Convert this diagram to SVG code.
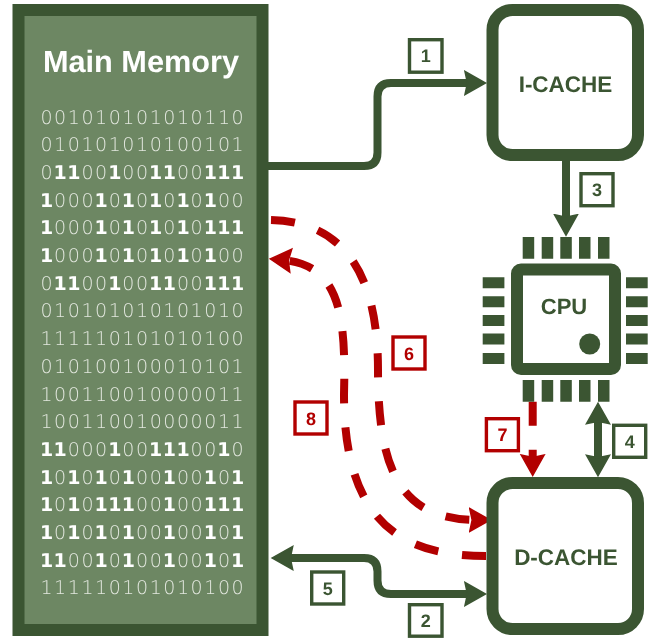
<svg xmlns="http://www.w3.org/2000/svg" width="652" height="638" viewBox="0 0 652 638">
<style>
text{text-rendering:geometricPrecision;filter:url(#gray)}
.box{fill:#fff;stroke:#3b5532;stroke-width:12}
.pin{fill:#3b5532}
.t{font-family:"Liberation Sans",Arial,sans-serif;font-weight:700;fill:#3b5532;text-anchor:middle}
.c{font-size:22.5px}
.n{font-size:18px}
.lg rect{fill:#fff;stroke:#3b5532;stroke-width:3.4}
.lr rect{fill:#fff;stroke:#b20000;stroke-width:3.4}
.lr text{fill:#b20000}
.w{fill:none;stroke:#3b5532;stroke-width:8}
.r{fill:none;stroke:#b20000;stroke-width:8;stroke-dasharray:24 24}
.bits text{font-family:"DejaVu Sans",sans-serif;font-size:19px;font-weight:200;fill:#e2e7de;text-anchor:middle}
.bits tspan{font-weight:700;fill:#fff}
.hg{fill:#3b5532;stroke:#3b5532;stroke-width:1.500}
.hr{fill:#b20000;stroke:#b20000;stroke-width:1.500}
</style>
<defs>
<filter id="gray" x="-.1" y="-.3" width="1.2" height="1.6" color-interpolation-filters="sRGB"><feOffset dx="0" dy="0"/></filter>
<marker id="hg" markerUnits="userSpaceOnUse" markerWidth="30" markerHeight="30" refX="9" refY="15" orient="auto-start-reverse"><path class="hg" d="M1 3.500L21.500 15L1 26.500L3.500 15Z"/></marker>
<marker id="hr" markerUnits="userSpaceOnUse" markerWidth="30" markerHeight="30" refX="9" refY="15" orient="auto-start-reverse"><path class="hr" d="M1 3.500L21.500 15L1 26.500L3.500 15Z"/></marker>
</defs>
<g id="main-memory">
<rect x="18.500" y="10" width="244" height="620" fill="#6d8763" stroke="#3b5532" stroke-width="12"/>
<text x="141" y="71.500" font-family="Liberation Sans, Arial, sans-serif" font-weight="700" font-size="30.700" fill="#fff" text-anchor="middle">Main Memory</text>
<g class="bits">
<text y="123.500" x="46.500 60.150 73.800 87.450 101.100 114.750 128.400 142.050 155.700 169.350 183 196.650 210.300 223.950 237.600">001010101010110</text>
<text y="151.200" x="46.500 60.150 73.800 87.450 101.100 114.750 128.400 142.050 155.700 169.350 183 196.650 210.300 223.950 237.600">010101010100101</text>
<text y="178.900" x="46.500 60.150 73.800 87.450 101.100 114.750 128.400 142.050 155.700 169.350 183 196.650 210.300 223.950 237.600">0<tspan>11</tspan>00<tspan>1</tspan>00<tspan>11</tspan>00<tspan>111</tspan></text>
<text y="206.600" x="46.500 60.150 73.800 87.450 101.100 114.750 128.400 142.050 155.700 169.350 183 196.650 210.300 223.950 237.600"><tspan>1</tspan>000<tspan>1</tspan>0<tspan>1</tspan>0<tspan>1</tspan>0<tspan>1</tspan>0<tspan>1</tspan>00</text>
<text y="234.300" x="46.500 60.150 73.800 87.450 101.100 114.750 128.400 142.050 155.700 169.350 183 196.650 210.300 223.950 237.600"><tspan>1</tspan>000<tspan>1</tspan>0<tspan>1</tspan>0<tspan>1</tspan>0<tspan>1</tspan>0<tspan>111</tspan></text>
<text y="262" x="46.500 60.150 73.800 87.450 101.100 114.750 128.400 142.050 155.700 169.350 183 196.650 210.300 223.950 237.600"><tspan>1</tspan>000<tspan>1</tspan>0<tspan>1</tspan>0<tspan>1</tspan>0<tspan>1</tspan>0<tspan>1</tspan>00</text>
<text y="289.700" x="46.500 60.150 73.800 87.450 101.100 114.750 128.400 142.050 155.700 169.350 183 196.650 210.300 223.950 237.600">0<tspan>11</tspan>00<tspan>1</tspan>00<tspan>11</tspan>00<tspan>111</tspan></text>
<text y="317.400" x="46.500 60.150 73.800 87.450 101.100 114.750 128.400 142.050 155.700 169.350 183 196.650 210.300 223.950 237.600">010101010101010</text>
<text y="345.100" x="46.500 60.150 73.800 87.450 101.100 114.750 128.400 142.050 155.700 169.350 183 196.650 210.300 223.950 237.600">111110101010100</text>
<text y="372.800" x="46.500 60.150 73.800 87.450 101.100 114.750 128.400 142.050 155.700 169.350 183 196.650 210.300 223.950 237.600">010100100010101</text>
<text y="400.500" x="46.500 60.150 73.800 87.450 101.100 114.750 128.400 142.050 155.700 169.350 183 196.650 210.300 223.950 237.600">100110010000011</text>
<text y="428.200" x="46.500 60.150 73.800 87.450 101.100 114.750 128.400 142.050 155.700 169.350 183 196.650 210.300 223.950 237.600">100110010000011</text>
<text y="455.900" x="46.500 60.150 73.800 87.450 101.100 114.750 128.400 142.050 155.700 169.350 183 196.650 210.300 223.950 237.600"><tspan>11</tspan>000<tspan>1</tspan>00<tspan>111</tspan>00<tspan>1</tspan>0</text>
<text y="483.600" x="46.500 60.150 73.800 87.450 101.100 114.750 128.400 142.050 155.700 169.350 183 196.650 210.300 223.950 237.600"><tspan>1</tspan>0<tspan>1</tspan>0<tspan>1</tspan>0<tspan>1</tspan>00<tspan>1</tspan>00<tspan>1</tspan>0<tspan>1</tspan></text>
<text y="511.300" x="46.500 60.150 73.800 87.450 101.100 114.750 128.400 142.050 155.700 169.350 183 196.650 210.300 223.950 237.600"><tspan>1</tspan>0<tspan>1</tspan>0<tspan>111</tspan>00<tspan>1</tspan>00<tspan>111</tspan></text>
<text y="539" x="46.500 60.150 73.800 87.450 101.100 114.750 128.400 142.050 155.700 169.350 183 196.650 210.300 223.950 237.600"><tspan>1</tspan>0<tspan>1</tspan>0<tspan>1</tspan>0<tspan>1</tspan>00<tspan>1</tspan>00<tspan>1</tspan>0<tspan>1</tspan></text>
<text y="566.700" x="46.500 60.150 73.800 87.450 101.100 114.750 128.400 142.050 155.700 169.350 183 196.650 210.300 223.950 237.600"><tspan>11</tspan>00<tspan>1</tspan>0<tspan>1</tspan>00<tspan>1</tspan>00<tspan>1</tspan>0<tspan>1</tspan></text>
<text y="594.400" x="46.500 60.150 73.800 87.450 101.100 114.750 128.400 142.050 155.700 169.350 183 196.650 210.300 223.950 237.600">111110101010100</text>
</g>
</g>
<g id="connectors">
<path class="w" marker-end="url(#hg)" d="M268 166H364Q377.500 166 377.500 152.500V96.500Q377.500 83 391 83H473"/>
<path class="w" marker-end="url(#hg)" d="M566 161V222.700"/>
<path class="w" marker-start="url(#hg)" marker-end="url(#hg)" d="M598 415.700V463.300"/>
<path class="w" marker-start="url(#hg)" marker-end="url(#hg)" d="M284.700 558H364Q377.500 558 377.500 571.500V580.500Q377.500 594 391 594H473"/>
<path class="r" marker-end="url(#hr)" d="M532.700 401.700V463"/>
<path class="r" marker-end="url(#hr)" d="M271 220C345 222 378 275 378 370C378 470 400 520 477.700 520"/>
<path class="r" marker-end="url(#hr)" d="M486 556C410 556 344 530 344 395C346 315 340 265 282.800 260"/>
</g>
<g id="i-cache">
<rect class="box" x="492.500" y="10" width="145.500" height="145" rx="20"/>
<text class="t c" x="565.500" y="92">I-CACHE</text>
</g>
<g id="d-cache">
<rect class="box" x="492.500" y="483" width="145.500" height="146" rx="20"/>
<text class="t c" x="566" y="565">D-CACHE</text>
</g>
<g id="cpu">
<rect class="box" x="517" y="269.500" width="98" height="99.500" rx="4"/>
<text class="t" x="564" y="314" font-size="22">CPU</text>
<circle class="pin" cx="589.700" cy="344" r="10.500"/>
<path class="pin" d="M522.700 237h11.500v21.700h-11.500zM541.700 237h11.500v21.700h-11.500zM560.300 237h11.500v21.700h-11.500zM579 237h11.500v21.700h-11.500zM598 237h11.500v21.700h-11.500zM522.700 380h11.500v21.700h-11.500zM541.700 380h11.500v21.700h-11.500zM560.300 380h11.500v21.700h-11.500zM579 380h11.500v21.700h-11.500zM598 380h11.500v21.700h-11.500zM482.700 277.300h21.700v11h-21.700zM482.700 296.300h21.700v11h-21.700zM482.700 315h21.700v11h-21.700zM482.700 333.500h21.700v11h-21.700zM482.700 353h21.700v11h-21.700zM626 277.300h21.700v11h-21.700zM626 296.300h21.700v11h-21.700zM626 315h21.700v11h-21.700zM626 333.500h21.700v11h-21.700zM626 353h21.700v11h-21.700z"/>
</g>
<g id="label-1" class="lg"><rect x="409.500" y="39.700" width="32.500" height="32.500"/><text class="t n" x="425.700" y="62.300">1</text></g>
<g id="label-2" class="lg"><rect x="409.500" y="604.700" width="32.500" height="31.500"/><text class="t n" x="425.700" y="627">2</text></g>
<g id="label-3" class="lg"><rect x="581" y="173.700" width="32" height="32"/><text class="t n" x="597" y="196">3</text></g>
<g id="label-4" class="lg"><rect x="613.700" y="425.300" width="32" height="32"/><text class="t n" x="629.700" y="448">4</text></g>
<g id="label-5" class="lg"><rect x="311.700" y="572" width="32" height="32"/><text class="t n" x="327.700" y="594.500">5</text></g>
<g id="label-6" class="lr"><rect x="393" y="337" width="32" height="32"/><text class="t n" x="409" y="359.500">6</text></g>
<g id="label-7" class="lr"><rect x="486.400" y="418.700" width="32" height="32"/><text class="t n" x="502.400" y="441">7</text></g>
<g id="label-8" class="lr"><rect x="295" y="402" width="32" height="32"/><text class="t n" x="311" y="424.500">8</text></g>
</svg>
